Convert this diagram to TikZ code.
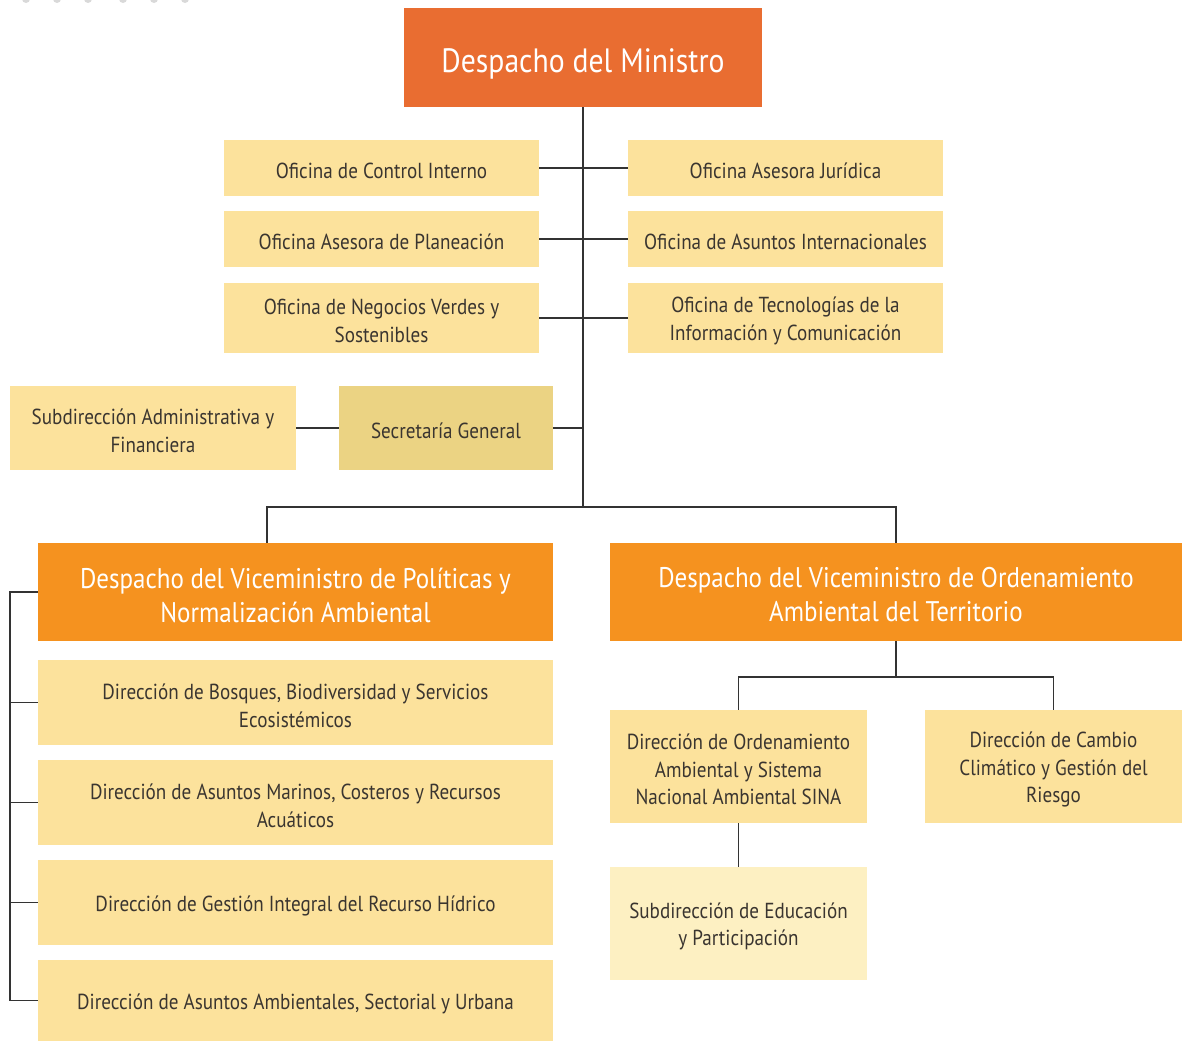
\documentclass[tikz,border=0pt]{standalone}
\usepackage{fontspec}
\setmainfont{PT Sans}[FakeStretch=0.88]
\definecolor{minor}{HTML}{E96D31}
\definecolor{vice}{HTML}{F5921F}
\definecolor{lightbox}{HTML}{FCE29C}
\definecolor{secbox}{HTML}{EBD383}
\definecolor{palebox}{HTML}{FDF0C2}
\definecolor{txt}{HTML}{3A3530}
\definecolor{lin}{HTML}{333333}
% #1 name, #2 style, #3-#6 box corners (px), #7 text, #8 text drop (px)
\newcommand\obox[8]{%
  \node[#2, minimum width={(#5-#3)*0.75pt}, minimum height={(#6-#4)*0.75pt}]
    (#1) at ({(#3+#5)/2},{(#4+#6)/2}) {};
  \node[#2, fill=none] at ([yshift={-#8*0.75pt}]#1.center) {#7};}
\tikzset{
  base/.style={inner sep=0pt, align=center, font=\fontsize{16.3}{20.8}\selectfont},
  lbox/.style={base, fill=lightbox, text=txt},
  sbox/.style={base, fill=secbox, text=txt},
  pbox/.style={base, fill=palebox, text=txt},
  topbox/.style={base, fill=minor, text=white, font=\fontsize{25.3}{30}\selectfont},
  vbox/.style={base, fill=vice, text=white, font=\fontsize{21.3}{25.5}\selectfont},
  conn/.style={draw=lin, line width=1.1pt},
}
\begin{document}
\begin{tikzpicture}[x=0.75pt, y=-0.75pt]
\useasboundingbox (0,0) rectangle (1183,1042);
% faint dots at top edge
\foreach \dx in {26,57,88,123,154,185}
  \fill[black!15] (\dx,-1) circle (4);
\obox{min}{topbox}{404}{8}{762}{107}{Despacho del Ministro}{6}
\obox{oci}{lbox}{224}{140}{539}{196}{Oficina de Control Interno}{3}
\obox{oaj}{lbox}{628}{140}{943}{196}{Oficina Asesora Jurídica}{3}
\obox{oap}{lbox}{224}{211}{539}{267}{Oficina Asesora de Planeación}{3}
\obox{oai}{lbox}{628}{211}{943}{267}{Oficina de Asuntos Internacionales}{3}
\obox{onv}{lbox}{224}{283}{539}{353}{Oficina de Negocios Verdes y\\Sostenibles}{3}
\obox{otic}{lbox}{628}{283}{943}{353}{Oficina de Tecnologías de la\\Información y Comunicación}{3}
\obox{saf}{lbox}{10}{386}{296}{470}{Subdirección Administrativa y\\Financiera}{3}
\obox{sg}{sbox}{339}{386}{553}{470}{Secretaría General}{3}
\obox{vpn}{vbox}{38}{543}{553}{641}{Despacho del Viceministro de Políticas y\\Normalización Ambiental}{3}
\obox{vot}{vbox}{610}{543}{1182}{641}{Despacho del Viceministro de Ordenamiento\\Ambiental del Territorio}{3}
\obox{dbb}{lbox}{38}{660}{553}{745}{Dirección de Bosques, Biodiversidad y Servicios\\Ecosistémicos}{3}
\obox{dam}{lbox}{38}{760}{553}{845}{Dirección de Asuntos Marinos, Costeros y Recursos\\Acuáticos}{3}
\obox{dgi}{lbox}{38}{860}{553}{945}{Dirección de Gestión Integral del Recurso Hídrico}{3}
\obox{daa}{lbox}{38}{960}{553}{1041}{Dirección de Asuntos Ambientales, Sectorial y Urbana}{3}
\obox{dor}{lbox}{610}{710}{867}{823}{Dirección de Ordenamiento\\Ambiental y Sistema\\Nacional Ambiental SINA}{3}
\obox{dcc}{lbox}{925}{710}{1182}{823}{Dirección de Cambio\\Climático y Gestión del\\Riesgo}{3}
\obox{sep}{pbox}{610}{867}{867}{980}{Subdirección de Educación\\y Participación}{3}
% connectors
\coordinate (spine) at (583,507);
\draw[conn] (min.south -| spine) -- (spine);
\draw[conn] (oci.east) -- (oaj.west);
\draw[conn] (oap.east) -- (oai.west);
\draw[conn] (onv.east) -- (otic.west);
\draw[conn] (sg.east) -- (sg.east -| spine);
\draw[conn] (saf.east) -- (sg.west);
\draw[conn] (vpn.north -| 267,0) -- (267,507) -- (896,507) -- (vot.north -| 896,0);
\coordinate (rj) at (896,677);
\draw[conn] (vot.south -| rj) -- (rj);
\draw[conn] (dor.north) -- (dor.north |- rj) -- (dcc.north |- rj) -- (dcc.north);
\draw[conn] (dor.south) -- (sep.north);
\coordinate (lb) at (10,0);
\draw[conn] (vpn.west) -- (vpn.west -| lb) -- (daa.west -| lb) -- (daa.west);
\draw[conn] (dbb.west -| lb) -- (dbb.west);
\draw[conn] (dam.west -| lb) -- (dam.west);
\draw[conn] (dgi.west -| lb) -- (dgi.west);
\end{tikzpicture}
\end{document}
